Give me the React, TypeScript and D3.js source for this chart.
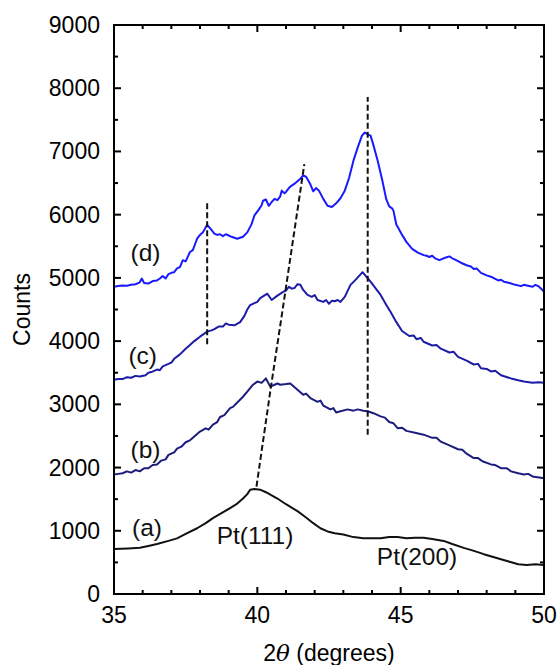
import React from "react";
import * as d3 from "d3";

// ---- data (2θ in degrees, counts) ----
const curveD: [number, number][] = [
  [35.0, 4860], [35.15, 4870], [35.3, 4880], [35.45, 4875], [35.6, 4890], [35.75, 4900], [35.9, 4930],
  [35.97, 4990], [36.05, 4920], [36.2, 4910], [36.35, 4950], [36.5, 4960], [36.6, 4990], [36.7, 5030],
  [36.8, 4990], [36.9, 5060], [37.0, 5080], [37.1, 5090], [37.2, 5150], [37.3, 5170], [37.4, 5280],
  [37.5, 5260], [37.65, 5410], [37.75, 5440], [37.85, 5560], [37.9, 5620], [38.0, 5680], [38.1, 5720],
  [38.25, 5840], [38.4, 5760], [38.5, 5700], [38.6, 5680], [38.7, 5690], [38.8, 5660], [38.9, 5690],
  [39.0, 5670], [39.1, 5650], [39.3, 5620], [39.5, 5650], [39.65, 5720], [39.8, 5850], [39.9, 5990],
  [40.05, 6080], [40.15, 6150], [40.2, 6220], [40.3, 6240], [40.4, 6140], [40.5, 6200], [40.6, 6250],
  [40.7, 6230], [40.8, 6290], [40.85, 6380], [40.95, 6340], [41.0, 6360], [41.1, 6420], [41.2, 6460],
  [41.3, 6490], [41.4, 6530], [41.5, 6570], [41.6, 6620], [41.7, 6600], [41.85, 6480], [41.95, 6370],
  [42.05, 6420], [42.15, 6380], [42.3, 6250], [42.45, 6140], [42.6, 6120], [42.75, 6180], [42.9, 6260],
  [43.05, 6380], [43.2, 6580], [43.35, 6850], [43.5, 7060], [43.65, 7250], [43.75, 7300], [43.85, 7270],
  [43.95, 7250], [44.05, 7100], [44.2, 6850], [44.35, 6560], [44.5, 6240], [44.6, 6130], [44.7, 6100],
  [44.75, 6060], [44.85, 5840], [44.92, 5790], [44.95, 5760], [45.05, 5680], [45.2, 5570],
  [45.4, 5460], [45.6, 5400], [45.8, 5360], [45.9, 5350], [46.0, 5330], [46.1, 5350], [46.2, 5310],
  [46.35, 5280], [46.5, 5310], [46.7, 5340], [46.8, 5310], [46.9, 5290], [47.1, 5240], [47.3, 5200],
  [47.45, 5180], [47.55, 5140], [47.65, 5150], [47.8, 5080], [48.0, 5040], [48.2, 5010], [48.4, 4960],
  [48.5, 4970], [48.6, 4940], [48.8, 4920], [49.0, 4890], [49.2, 4870], [49.3, 4890], [49.4, 4880],
  [49.6, 4860], [49.7, 4890], [49.8, 4870], [49.9, 4830], [50.0, 4780],
];

const curveC: [number, number][] = [
  [35.0, 3390], [35.15, 3400], [35.3, 3400], [35.45, 3430], [35.6, 3420], [35.75, 3450], [35.9, 3440],
  [36.1, 3460], [36.2, 3500], [36.3, 3510], [36.5, 3550], [36.6, 3540], [36.7, 3600], [36.9, 3640],
  [37.0, 3660], [37.1, 3720], [37.3, 3790], [37.5, 3880], [37.65, 3940], [37.8, 4000], [38.0, 4070],
  [38.25, 4150], [38.4, 4170], [38.5, 4190], [38.65, 4230], [38.8, 4230], [38.9, 4280], [39.0, 4260],
  [39.2, 4250], [39.4, 4300], [39.55, 4400], [39.65, 4500], [39.75, 4570], [39.9, 4600], [40.0, 4620],
  [40.1, 4680], [40.35, 4750], [40.5, 4650], [40.7, 4720], [40.9, 4780], [41.0, 4800], [41.1, 4860],
  [41.2, 4830], [41.3, 4840], [41.4, 4900], [41.5, 4890], [41.6, 4810], [41.75, 4730], [41.9, 4700],
  [42.0, 4730], [42.1, 4650], [42.3, 4620], [42.4, 4650], [42.5, 4590], [42.6, 4640], [42.7, 4630],
  [42.8, 4650], [42.9, 4620], [43.05, 4700], [43.25, 4890], [43.45, 4980], [43.67, 5090], [43.8, 5020],
  [43.95, 4940], [44.1, 4850], [44.3, 4730], [44.5, 4570], [44.65, 4460], [44.85, 4300], [45.05, 4160],
  [45.3, 4080], [45.45, 4090], [45.55, 4030], [45.7, 4050], [45.8, 3990], [46.1, 3930], [46.25, 3940],
  [46.4, 3880], [46.7, 3820], [46.85, 3830], [47.0, 3750], [47.3, 3690], [47.55, 3630], [47.7, 3640],
  [47.8, 3570], [48.0, 3560], [48.15, 3520], [48.3, 3530], [48.5, 3460], [48.85, 3410], [49.1, 3380],
  [49.3, 3360], [49.6, 3340], [49.8, 3350], [50.0, 3340],
];

const curveB: [number, number][] = [
  [35.0, 1890], [35.15, 1900], [35.3, 1910], [35.45, 1940], [35.6, 1920], [35.75, 1960], [35.9, 1940],
  [36.05, 1990], [36.2, 1990], [36.35, 2040], [36.5, 2050], [36.65, 2110], [36.8, 2130], [36.9, 2200],
  [37.0, 2220], [37.1, 2240], [37.2, 2300], [37.35, 2330], [37.5, 2400], [37.65, 2430], [37.8, 2490],
  [38.0, 2570], [38.2, 2620], [38.3, 2600], [38.45, 2680], [38.6, 2720], [38.7, 2800], [38.85, 2830],
  [39.05, 2940], [39.15, 2960], [39.3, 3030], [39.5, 3120], [39.65, 3200], [39.85, 3310], [40.0, 3360],
  [40.15, 3340], [40.3, 3410], [40.45, 3280], [40.6, 3310], [40.7, 3330], [40.8, 3310], [41.0, 3320],
  [41.15, 3330], [41.3, 3270], [41.45, 3210], [41.6, 3150], [41.7, 3170], [41.85, 3100], [42.1, 3040],
  [42.2, 3060], [42.3, 2980], [42.55, 2920], [42.65, 2940], [42.75, 2870], [42.9, 2890], [43.15, 2920],
  [43.35, 2900], [43.5, 2920], [43.7, 2900], [43.85, 2890], [44.05, 2860], [44.3, 2810], [44.45, 2790],
  [44.6, 2720], [44.75, 2700], [44.9, 2620], [45.05, 2630], [45.2, 2580], [45.5, 2550], [45.8, 2520],
  [46.1, 2470], [46.25, 2470], [46.4, 2410], [46.7, 2350], [47.0, 2290], [47.15, 2280], [47.3, 2220],
  [47.55, 2150], [47.7, 2150], [47.85, 2100], [48.15, 2050], [48.3, 2040], [48.5, 1990], [48.7, 1990],
  [48.85, 1940], [49.1, 1910], [49.3, 1890], [49.45, 1900], [49.6, 1860], [50.0, 1830],
];

const curveA: [number, number][] = [
  [35.0, 710], [35.5, 720], [35.9, 730], [36.2, 760], [36.5, 790], [36.9, 840], [37.2, 880],
  [37.5, 950], [37.9, 1040], [38.2, 1120], [38.45, 1200], [38.75, 1280], [39.05, 1360], [39.3, 1430],
  [39.5, 1510], [39.65, 1580], [39.75, 1650], [39.9, 1660], [40.1, 1650], [40.3, 1610], [40.5, 1560],
  [40.7, 1510], [41.0, 1420], [41.4, 1310], [41.7, 1210], [41.95, 1120], [42.2, 1040], [42.45, 990],
  [42.7, 960], [43.0, 940], [43.35, 900], [43.7, 880], [44.0, 880], [44.3, 880], [44.6, 900],
  [44.9, 900], [45.2, 880], [45.5, 890], [45.8, 890], [46.1, 870], [46.5, 840], [46.8, 790],
  [47.2, 730], [47.5, 690], [47.9, 630], [48.2, 590], [48.5, 550], [48.8, 510], [49.1, 470],
  [49.4, 460], [49.7, 470], [50.0, 460],
];

const dashV1: [number, number][] = [[38.25, 3950], [38.25, 6220]];
const dashV2: [number, number][] = [[43.85, 2520], [43.85, 7860]];
const dashDiag: [number, number][] = [[39.97, 1700], [40.45, 3200], [40.9, 4550], [41.64, 6800]];

const curveLabels: { text: string; x: number; y: number }[] = [
  { text: "(d)", x: 36.1, y: 5400 },
  { text: "(c)", x: 36.0, y: 3780 },
  { text: "(b)", x: 36.1, y: 2280 },
  { text: "(a)", x: 36.15, y: 1060 },
];
const peakLabels: { text: string; x: number; y: number }[] = [
  { text: "Pt(111)", x: 39.92, y: 930 },
  { text: "Pt(200)", x: 45.57, y: 590 },
];

const xMajor = [35, 40, 45, 50];
const xMinor = d3.range(35, 51, 1);
const yMajor = d3.range(0, 9001, 1000);
const yMinor = d3.range(0, 9001, 500);

const series = [
  { data: curveA, color: "#111111" },
  { data: curveB, color: "#1c1c7e" },
  { data: curveC, color: "#1c1ca6" },
  { data: curveD, color: "#1a1aff" },
];

export default function App() {
  const W = 558, H = 665;
  const left = 114, right = 544, top = 25, bottom = 594;
  const x = d3.scaleLinear().domain([35, 50]).range([left, right]);
  const y = d3.scaleLinear().domain([0, 9000]).range([bottom, top]);
  const line = d3.line<[number, number]>().x((d) => x(d[0])).y((d) => y(d[1]));
  const font = "Arial, 'Liberation Sans', sans-serif";
  const fs = 23;
  const lfs = 24.5;
  const isMajorX = (v: number) => xMajor.includes(v);
  const isMajorY = (v: number) => v % 1000 === 0;

  return (
    <svg width={W} height={H} style={{ position: "absolute", left: 0, top: 0, background: "#fff" }}
      fontFamily={font}>
      <rect x={0} y={0} width={W} height={H} fill="#fff" />
      {series.map((s, i) => (
        <path key={i} d={line(s.data) || ""} fill="none" stroke={s.color} strokeWidth={2}
          strokeLinejoin="round" />
      ))}
      {[dashV1, dashV2, dashDiag].map((d, i) => (
        <path key={"dash" + i} d={line(d) || ""} fill="none" stroke="#111" strokeWidth={2}
          strokeDasharray="6,3" />
      ))}
      {/* ticks */}
      {xMinor.map((v) => {
        const len = isMajorX(v) ? 7 : 4;
        return (
          <g key={"xt" + v} stroke="#000" strokeWidth={2}>
            <line x1={x(v)} x2={x(v)} y1={bottom} y2={bottom - len} />
            <line x1={x(v)} x2={x(v)} y1={top} y2={top + len} />
          </g>
        );
      })}
      {yMinor.map((v) => {
        const len = isMajorY(v) ? 7 : 4;
        return (
          <g key={"yt" + v} stroke="#000" strokeWidth={2}>
            <line x1={left} x2={left + len} y1={y(v)} y2={y(v)} />
            <line x1={right} x2={right - len} y1={y(v)} y2={y(v)} />
          </g>
        );
      })}
      <rect x={left} y={top} width={right - left} height={bottom - top} fill="none" stroke="#000"
        strokeWidth={2} />
      {/* tick labels */}
      {xMajor.map((v) => (
        <text key={"xl" + v} x={x(v)} y={bottom + 29} fontSize={fs} textAnchor="middle" fill="#000">
          {v}
        </text>
      ))}
      {yMajor.map((v) => (
        <text key={"yl" + v} x={left - 14} y={y(v)} dy="0.35em" fontSize={fs} textAnchor="end"
          fill="#000">
          {v}
        </text>
      ))}
      {/* axis titles */}
      <text x={329} y={661} fontSize={fs} textAnchor="middle" fill="#000">
        2<tspan fontStyle="italic" fontFamily="'DejaVu Serif', serif">θ</tspan> (degrees)
      </text>
      <text transform={`translate(30, ${(top + bottom) / 2}) rotate(-90)`} fontSize={fs}
        textAnchor="middle" fill="#000">
        Counts
      </text>
      {curveLabels.map((l) => (
        <text key={l.text} x={x(l.x)} y={y(l.y)} dy="0.35em" fontSize={lfs} textAnchor="middle" fill="#111">
          {l.text}
        </text>
      ))}
      {peakLabels.map((l) => (
        <text key={l.text} x={x(l.x)} y={y(l.y)} dy="0.35em" fontSize={lfs} textAnchor="middle" fill="#111">
          {l.text}
        </text>
      ))}
    </svg>
  );
}
